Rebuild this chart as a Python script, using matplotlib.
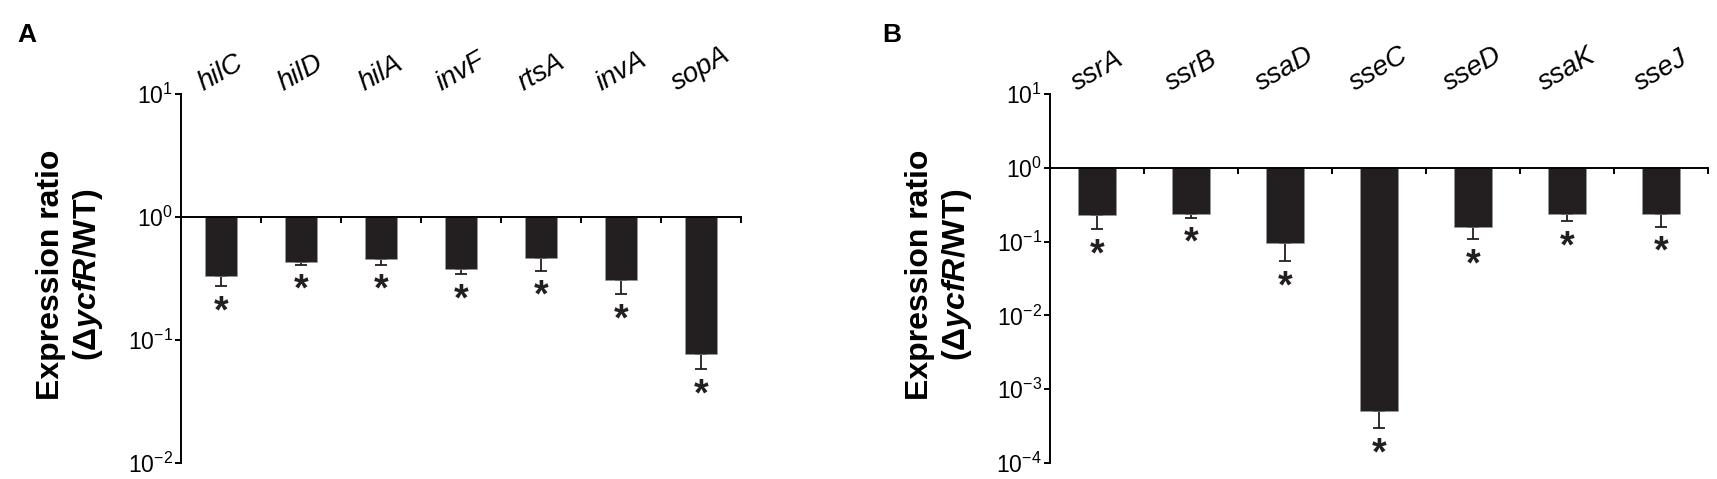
"""
Two-panel qRT-PCR figure: expression ratio (delta-ycfR / WT) on a log axis,
bars hanging down from 1 with lower error bars and significance stars.
"""
import matplotlib
matplotlib.use("Agg")
import numpy as np
import matplotlib.pyplot as plt

plt.rcParams.update({
    "font.family": ["Liberation Sans", "DejaVu Sans"],
    "mathtext.fontset": "custom",
    "mathtext.rm": "Liberation Sans",
    "mathtext.it": "Liberation Sans:italic:bold",
    "mathtext.bf": "Liberation Sans:bold",
    "figure.dpi": 100,
})

BAR_COL = "#231f20"

# ---- data ---------------------------------------------------------------
genes_a = ["hilC", "hilD", "hilA", "invF", "rtsA", "invA", "sopA"]
ratio_a = np.array([0.33, 0.433, 0.453, 0.377, 0.463, 0.31, 0.077])
lower_a = np.array([0.275, 0.41, 0.41, 0.341, 0.367, 0.236, 0.0578])

genes_b = ["ssrA", "ssrB", "ssaD", "sseC", "sseD", "ssaK", "sseJ"]
ratio_b = np.array([0.229, 0.237, 0.0957, 5.08e-4, 0.157, 0.236, 0.236])
lower_b = np.array([0.149, 0.212, 0.0542, 3.0e-4, 0.108, 0.19, 0.16])

yticks_a = [1e-2, 1e-1, 1e0, 1e1]
yticks_b = [1e-4, 1e-3, 1e-2, 1e-1, 1e0, 1e1]

W, H = 1717, 479


def panel(ax, genes, ratio, lower, yticks):
    x = np.arange(len(genes))
    ax.set_yscale("log")
    ax.bar(x, 1 - ratio, bottom=ratio, width=0.4, color=BAR_COL,
           edgecolor="#9a9a9a", linewidth=0.4, zorder=2)
    ax.errorbar(x, ratio, yerr=[ratio - lower, np.zeros_like(ratio)],
                fmt="none", ecolor=BAR_COL, elinewidth=1.3, capsize=4,
                capthick=1.3, zorder=1)
    for xi, lo in zip(x, lower):
        ax.annotate("*", xy=(xi, lo), xytext=(0, -6),
                    textcoords="offset points", ha="center", va="top",
                    fontsize=27, fontweight="bold", color=BAR_COL)
    for xi, g in zip(x, genes):
        ax.text(xi, 0.995, g, transform=ax.get_xaxis_transform(),
                rotation=30, ha="center", va="bottom", style="italic",
                fontsize=20)

    ax.set_xlim(-0.5, len(genes) - 0.5)
    ax.set_ylim(yticks[0], yticks[-1])
    ax.set_yticks(yticks)
    ax.yaxis.set_minor_locator(plt.NullLocator())
    ax.set_xticks(np.arange(len(genes)) + 0.5)
    ax.set_xticklabels([])

    for s in ("top", "right"):
        ax.spines[s].set_visible(False)
    ax.spines["bottom"].set_position(("data", 1))
    ax.spines["left"].set_linewidth(1.4)
    ax.spines["bottom"].set_linewidth(1.4)
    ax.tick_params(axis="y", direction="out", length=4, width=1.4,
                   labelsize=16.5, pad=2)
    ax.tick_params(axis="x", direction="out", length=4.5, width=1.4)


fig = plt.figure(figsize=(W / 100, H / 100))
bottom, top = 1 - 463 / H, 1 - 94 / H
ax_a = fig.add_axes([181 / W, bottom, (741 - 181) / W, top - bottom])
ax_b = fig.add_axes([1050 / W, bottom, (1708 - 1050) / W, top - bottom])

panel(ax_a, genes_a, ratio_a, lower_a, yticks_a)
panel(ax_b, genes_b, ratio_b, lower_b, yticks_b)

ylab2 = r"$\mathbf{(\Delta}\mathit{ycfR}\mathbf{/WT)}$"
ymid = 1 - 275 / H
for axis_px, letter_px in ((181, 17), (1050, 882)):
    fig.text((axis_px - 130) / W, ymid, "Expression ratio", rotation=90,
             ha="center", va="center", fontsize=23, fontweight="bold")
    fig.text((axis_px - 93) / W, ymid, ylab2, rotation=90,
             ha="center", va="center", fontsize=23)
    fig.text(letter_px / W, 1 - 23 / H, "A" if axis_px == 181 else "B",
             ha="left", va="top", fontsize=19, fontweight="bold")

fig.savefig("out.png", dpi=100)
